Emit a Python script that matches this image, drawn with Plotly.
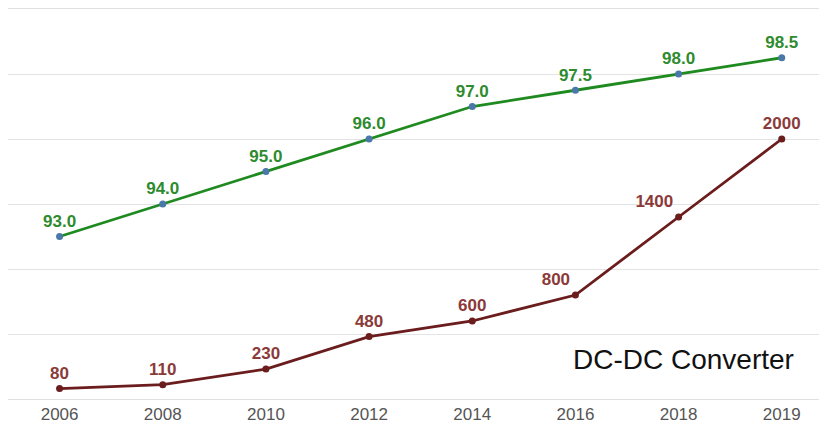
import plotly.graph_objects as go

years = ["2006", "2008", "2010", "2012", "2014", "2016", "2018", "2019"]
efficiency = [93.0, 94.0, 95.0, 96.0, 97.0, 97.5, 98.0, 98.5]
density = [80, 110, 230, 480, 600, 800, 1400, 2000]
density_pos = ["top center"] * 5 + ["top left", "top left", "top center"]

fig = go.Figure()
fig.add_trace(go.Scatter(
    x=years, y=efficiency, mode="lines+markers+text",
    line=dict(color="#1f8a1f", width=2.8),
    marker=dict(color="#4a78a8", size=7),
    text=[f"{v:.1f}" for v in efficiency], textposition="top center",
    textfont=dict(color="#2e8b2e", size=17, family="Liberation Sans", weight="bold"),
    cliponaxis=False, showlegend=False,
))
fig.add_trace(go.Scatter(
    x=years, y=density, mode="lines+markers+text", yaxis="y2",
    line=dict(color="#6b1c1c", width=2.8),
    marker=dict(color="#6b1c1c", size=7),
    text=[str(v) for v in density], textposition=density_pos,
    textfont=dict(color="#8b3a3a", size=17, family="Liberation Sans", weight="bold"),
    cliponaxis=False, showlegend=False,
))

fig.add_annotation(text="DC-DC Converter", xref="paper", yref="paper", x=0.968, y=0.102,
                   xanchor="right", yanchor="middle", showarrow=False,
                   font=dict(size=28, color="#111111", family="Liberation Sans"))

# page body has an 8px margin, so the figure is sized to fit inside the window
fig.update_layout(
    width=819, height=416,
    margin=dict(l=0, r=5, t=0, b=24),
    paper_bgcolor="white", plot_bgcolor="white",
    font=dict(family="Liberation Sans"),
    xaxis=dict(type="category", range=[-0.5, 7.39], showgrid=False,
               showline=True, mirror=True, linecolor="#e0e0e0", linewidth=1, ticks="",
               tickfont=dict(size=17, color="#555555")),
    yaxis=dict(range=[88, 100], dtick=2, showgrid=True, gridcolor="#e3e3e3",
               showticklabels=False, zeroline=False, showline=True,
               linecolor="#a0a0a0", linewidth=1.5),
    yaxis2=dict(range=[0, 3000], overlaying="y", showgrid=False,
                showticklabels=False, zeroline=False),
)

fig.write_html("out.html")
